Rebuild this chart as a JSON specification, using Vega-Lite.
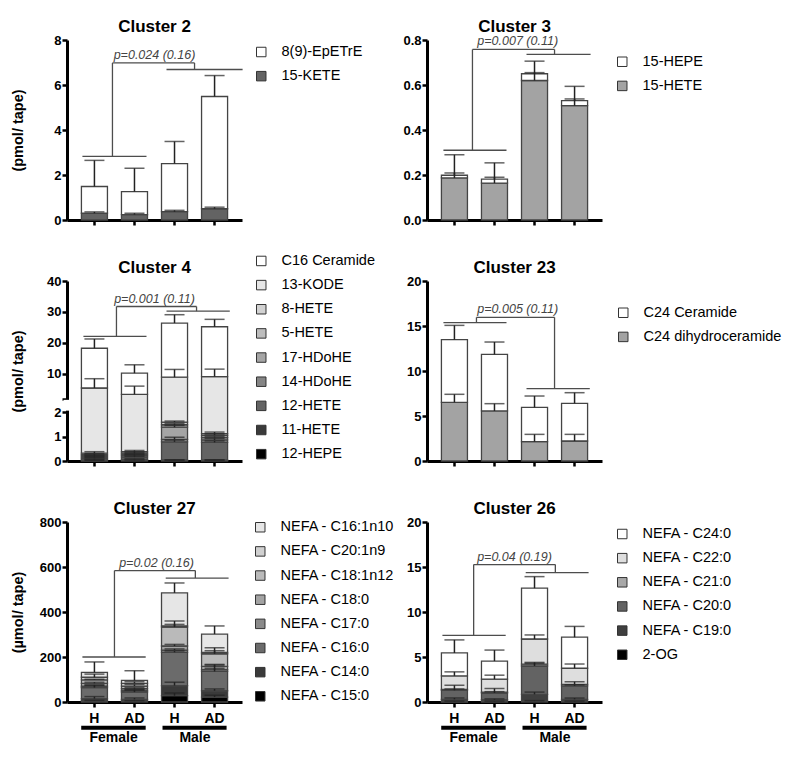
{
  "$schema": "https://vega.github.io/schema/vega-lite/v6.json",
  "background": "white",
  "padding": {"left": 10, "top": 17, "right": 5, "bottom": 5},
  "config": {
    "font": "Liberation Sans",
    "view": {"stroke": null},
    "axis": {"domainColor": "#000000", "domainWidth": 3, "tickColor": "#000000", "tickWidth": 2.5, "tickSize": 5, "labelFontSize": 13, "labelFontWeight": "bold", "labelColor": "#000000", "labelFont": "Liberation Sans", "titleFont": "Liberation Sans", "titleFontSize": 14.5, "titleFontWeight": "bold", "titleColor": "#000000", "grid": false, "labelPadding": 1},
    "axisY": {"minExtent": 28, "maxExtent": 28, "titlePadding": 14, "labelOverlap": false},
    "axisX": {"zindex": 1, "labelPadding": 4, "labelFontSize": 14},
    "legend": {"labelFont": "Liberation Sans", "labelFontSize": 14.5, "labelColor": "#000000", "symbolType": "square", "symbolSize": 90, "symbolStrokeColor": "#333333", "symbolStrokeWidth": 1, "rowPadding": 9.15, "labelOffset": 13, "padding": 0}
  },
  "datasets": {
    "c2": [
      {"g": "F-H", "a": "15-KETE", "o": 1, "v": 0.30, "e": 0.36},
      {"g": "F-H", "a": "8(9)-EpETrE", "o": 2, "v": 1.19, "e": 2.65},
      {"g": "F-AD", "a": "15-KETE", "o": 1, "v": 0.24, "e": 0.30},
      {"g": "F-AD", "a": "8(9)-EpETrE", "o": 2, "v": 1.02, "e": 2.30},
      {"g": "M-H", "a": "15-KETE", "o": 1, "v": 0.37, "e": 0.43},
      {"g": "M-H", "a": "8(9)-EpETrE", "o": 2, "v": 2.14, "e": 3.49},
      {"g": "M-AD", "a": "15-KETE", "o": 1, "v": 0.50, "e": 0.57},
      {"g": "M-AD", "a": "8(9)-EpETrE", "o": 2, "v": 4.99, "e": 6.42}
    ],
    "c3": [
      {"g": "F-H", "a": "15-HETE", "o": 1, "v": 0.187, "e": 0.209},
      {"g": "F-H", "a": "15-HEPE", "o": 2, "v": 0.012, "e": 0.29},
      {"g": "F-AD", "a": "15-HETE", "o": 1, "v": 0.164, "e": 0.19},
      {"g": "F-AD", "a": "15-HEPE", "o": 2, "v": 0.018, "e": 0.254},
      {"g": "M-H", "a": "15-HETE", "o": 1, "v": 0.62, "e": 0.655},
      {"g": "M-H", "a": "15-HEPE", "o": 2, "v": 0.03, "e": 0.706},
      {"g": "M-AD", "a": "15-HETE", "o": 1, "v": 0.508, "e": 0.538},
      {"g": "M-AD", "a": "15-HEPE", "o": 2, "v": 0.023, "e": 0.594}
    ],
    "c4": [
      {"g": "F-H", "a": "12-HEPE", "o": 1, "v": 0.02, "e": 0.03},
      {"g": "F-H", "a": "11-HETE", "o": 2, "v": 0.03, "e": 0.07},
      {"g": "F-H", "a": "12-HETE", "o": 3, "v": 0.06, "e": 0.14},
      {"g": "F-H", "a": "14-HDoHE", "o": 4, "v": 0.05, "e": 0.19},
      {"g": "F-H", "a": "17-HDoHE", "o": 5, "v": 0.05, "e": 0.24},
      {"g": "F-H", "a": "5-HETE", "o": 6, "v": 0.05, "e": 0.30},
      {"g": "F-H", "a": "8-HETE", "o": 7, "v": 0.06, "e": 0.38},
      {"g": "F-H", "a": "13-KODE", "o": 8, "v": 5.08, "e": 8.4},
      {"g": "F-H", "a": "C16 Ceramide", "o": 9, "v": 12.85, "e": 21.25},
      {"g": "F-AD", "a": "12-HEPE", "o": 1, "v": 0.03, "e": 0.04},
      {"g": "F-AD", "a": "11-HETE", "o": 2, "v": 0.04, "e": 0.09},
      {"g": "F-AD", "a": "12-HETE", "o": 3, "v": 0.09, "e": 0.19},
      {"g": "F-AD", "a": "14-HDoHE", "o": 4, "v": 0.06, "e": 0.25},
      {"g": "F-AD", "a": "17-HDoHE", "o": 5, "v": 0.05, "e": 0.30},
      {"g": "F-AD", "a": "5-HETE", "o": 6, "v": 0.05, "e": 0.36},
      {"g": "F-AD", "a": "8-HETE", "o": 7, "v": 0.06, "e": 0.43},
      {"g": "F-AD", "a": "13-KODE", "o": 8, "v": 2.98, "e": 6.0},
      {"g": "F-AD", "a": "C16 Ceramide", "o": 9, "v": 6.84, "e": 12.9},
      {"g": "M-H", "a": "12-HEPE", "o": 1, "v": 0.02, "e": 0.03},
      {"g": "M-H", "a": "11-HETE", "o": 2, "v": 0.02, "e": 0.05},
      {"g": "M-H", "a": "12-HETE", "o": 3, "v": 0.74, "e": 0.85},
      {"g": "M-H", "a": "14-HDoHE", "o": 4, "v": 0.10, "e": 0.97},
      {"g": "M-H", "a": "17-HDoHE", "o": 5, "v": 0.50, "e": 1.45},
      {"g": "M-H", "a": "5-HETE", "o": 6, "v": 0.10, "e": 1.53},
      {"g": "M-H", "a": "8-HETE", "o": 7, "v": 0.11, "e": 1.63},
      {"g": "M-H", "a": "13-KODE", "o": 8, "v": 7.31, "e": 11.4},
      {"g": "M-H", "a": "C16 Ceramide", "o": 9, "v": 17.5, "e": 29.1},
      {"g": "M-AD", "a": "12-HEPE", "o": 1, "v": 0.02, "e": 0.03},
      {"g": "M-AD", "a": "11-HETE", "o": 2, "v": 0.02, "e": 0.05},
      {"g": "M-AD", "a": "12-HETE", "o": 3, "v": 0.72, "e": 0.82},
      {"g": "M-AD", "a": "14-HDoHE", "o": 4, "v": 0.10, "e": 0.92},
      {"g": "M-AD", "a": "17-HDoHE", "o": 5, "v": 0.10, "e": 1.0},
      {"g": "M-AD", "a": "5-HETE", "o": 6, "v": 0.09, "e": 1.1},
      {"g": "M-AD", "a": "8-HETE", "o": 7, "v": 0.07, "e": 1.18},
      {"g": "M-AD", "a": "13-KODE", "o": 8, "v": 7.98, "e": 11.5},
      {"g": "M-AD", "a": "C16 Ceramide", "o": 9, "v": 16.1, "e": 27.6}
    ],
    "c23": [
      {"g": "F-H", "a": "C24 dihydroceramide", "o": 1, "v": 6.52, "e": 7.41},
      {"g": "F-H", "a": "C24 Ceramide", "o": 2, "v": 6.96, "e": 15.07},
      {"g": "F-AD", "a": "C24 dihydroceramide", "o": 1, "v": 5.56, "e": 6.37},
      {"g": "F-AD", "a": "C24 Ceramide", "o": 2, "v": 6.29, "e": 13.22},
      {"g": "M-H", "a": "C24 dihydroceramide", "o": 1, "v": 2.15, "e": 2.96},
      {"g": "M-H", "a": "C24 Ceramide", "o": 2, "v": 3.81, "e": 7.22},
      {"g": "M-AD", "a": "C24 dihydroceramide", "o": 1, "v": 2.22, "e": 2.96},
      {"g": "M-AD", "a": "C24 Ceramide", "o": 2, "v": 4.19, "e": 7.59}
    ],
    "c27": [
      {"g": "F-H", "a": "NEFA - C15:0", "o": 1, "v": 5, "e": 7},
      {"g": "F-H", "a": "NEFA - C14:0", "o": 2, "v": 10, "e": 24},
      {"g": "F-H", "a": "NEFA - C16:0", "o": 3, "v": 49, "e": 76},
      {"g": "F-H", "a": "NEFA - C17:0", "o": 4, "v": 6, "e": 74},
      {"g": "F-H", "a": "NEFA - C18:0", "o": 5, "v": 13, "e": 88},
      {"g": "F-H", "a": "NEFA - C18:1n12", "o": 6, "v": 15, "e": 101},
      {"g": "F-H", "a": "NEFA - C20:1n9", "o": 7, "v": 12, "e": 124},
      {"g": "F-H", "a": "NEFA - C16:1n10", "o": 8, "v": 22, "e": 178},
      {"g": "F-AD", "a": "NEFA - C15:0", "o": 1, "v": 4, "e": 6},
      {"g": "F-AD", "a": "NEFA - C14:0", "o": 2, "v": 8, "e": 18},
      {"g": "F-AD", "a": "NEFA - C16:0", "o": 3, "v": 32, "e": 56},
      {"g": "F-AD", "a": "NEFA - C17:0", "o": 4, "v": 6, "e": 53},
      {"g": "F-AD", "a": "NEFA - C18:0", "o": 5, "v": 9, "e": 64},
      {"g": "F-AD", "a": "NEFA - C18:1n12", "o": 6, "v": 12, "e": 78},
      {"g": "F-AD", "a": "NEFA - C20:1n9", "o": 7, "v": 12, "e": 90},
      {"g": "F-AD", "a": "NEFA - C16:1n10", "o": 8, "v": 13, "e": 139},
      {"g": "M-H", "a": "NEFA - C15:0", "o": 1, "v": 28, "e": 40},
      {"g": "M-H", "a": "NEFA - C14:0", "o": 2, "v": 45, "e": 88},
      {"g": "M-H", "a": "NEFA - C16:0", "o": 3, "v": 148, "e": 227},
      {"g": "M-H", "a": "NEFA - C17:0", "o": 4, "v": 10, "e": 236},
      {"g": "M-H", "a": "NEFA - C18:0", "o": 5, "v": 18, "e": 256},
      {"g": "M-H", "a": "NEFA - C18:1n12", "o": 6, "v": 84, "e": 360},
      {"g": "M-H", "a": "NEFA - C20:1n9", "o": 7, "v": 5, "e": 345},
      {"g": "M-H", "a": "NEFA - C16:1n10", "o": 8, "v": 147, "e": 529},
      {"g": "M-AD", "a": "NEFA - C15:0", "o": 1, "v": 22, "e": 30},
      {"g": "M-AD", "a": "NEFA - C14:0", "o": 2, "v": 28, "e": 58},
      {"g": "M-AD", "a": "NEFA - C16:0", "o": 3, "v": 86, "e": 164},
      {"g": "M-AD", "a": "NEFA - C17:0", "o": 4, "v": 8, "e": 150},
      {"g": "M-AD", "a": "NEFA - C18:0", "o": 5, "v": 14, "e": 167},
      {"g": "M-AD", "a": "NEFA - C18:1n12", "o": 6, "v": 56, "e": 241},
      {"g": "M-AD", "a": "NEFA - C20:1n9", "o": 7, "v": 6, "e": 228},
      {"g": "M-AD", "a": "NEFA - C16:1n10", "o": 8, "v": 82, "e": 338}
    ],
    "c26": [
      {"g": "F-H", "a": "2-OG", "o": 1, "v": 0.05, "e": 0.1},
      {"g": "F-H", "a": "NEFA - C19:0", "o": 2, "v": 0.25, "e": 0.45},
      {"g": "F-H", "a": "NEFA - C20:0", "o": 3, "v": 1.0, "e": 1.45},
      {"g": "F-H", "a": "NEFA - C21:0", "o": 4, "v": 0.1, "e": 1.86},
      {"g": "F-H", "a": "NEFA - C22:0", "o": 5, "v": 1.5, "e": 3.35},
      {"g": "F-H", "a": "NEFA - C24:0", "o": 6, "v": 2.55, "e": 6.9},
      {"g": "F-AD", "a": "2-OG", "o": 1, "v": 0.05, "e": 0.1},
      {"g": "F-AD", "a": "NEFA - C19:0", "o": 2, "v": 0.2, "e": 0.35},
      {"g": "F-AD", "a": "NEFA - C20:0", "o": 3, "v": 0.75, "e": 1.15},
      {"g": "F-AD", "a": "NEFA - C21:0", "o": 4, "v": 0.1, "e": 1.5},
      {"g": "F-AD", "a": "NEFA - C22:0", "o": 5, "v": 1.45, "e": 2.98},
      {"g": "F-AD", "a": "NEFA - C24:0", "o": 6, "v": 2.0, "e": 5.77},
      {"g": "M-H", "a": "2-OG", "o": 1, "v": 0.1, "e": 0.15},
      {"g": "M-H", "a": "NEFA - C19:0", "o": 2, "v": 0.75, "e": 1.1},
      {"g": "M-H", "a": "NEFA - C20:0", "o": 3, "v": 3.15, "e": 4.3},
      {"g": "M-H", "a": "NEFA - C21:0", "o": 4, "v": 0.2, "e": 4.4},
      {"g": "M-H", "a": "NEFA - C22:0", "o": 5, "v": 2.8, "e": 7.45},
      {"g": "M-H", "a": "NEFA - C24:0", "o": 6, "v": 5.65, "e": 13.93},
      {"g": "M-AD", "a": "2-OG", "o": 1, "v": 0.05, "e": 0.1},
      {"g": "M-AD", "a": "NEFA - C19:0", "o": 2, "v": 0.25, "e": 0.44},
      {"g": "M-AD", "a": "NEFA - C20:0", "o": 3, "v": 1.5, "e": 1.9},
      {"g": "M-AD", "a": "NEFA - C21:0", "o": 4, "v": 0.15, "e": 2.25},
      {"g": "M-AD", "a": "NEFA - C22:0", "o": 5, "v": 1.8, "e": 4.22},
      {"g": "M-AD", "a": "NEFA - C24:0", "o": 6, "v": 3.45, "e": 8.4}
    ],
    "b2": [
      {"k": "l", "x": 0.45, "x2": 2.5, "y": 6.98, "y2": 6.98},
      {"k": "l", "x": -0.3, "x2": 1.3, "y": 2.83, "y2": 2.83},
      {"k": "l", "x": 1.8, "x2": 3.7, "y": 6.69, "y2": 6.69},
      {"k": "l", "x": 0.45, "x2": 0.45, "y": 2.83, "y2": 6.98},
      {"k": "l", "x": 2.5, "x2": 2.5, "y": 6.69, "y2": 6.98},
      {"k": "p", "x": 1.5, "y": 6.98, "t": "p=0.024 (0.16)"},
      {"k": "t", "x": 1.5, "y": 8, "t": "Cluster 2"}
    ],
    "b3": [
      {"k": "l", "x": 0.45, "x2": 2.5, "y": 0.758, "y2": 0.758},
      {"k": "l", "x": -0.275, "x2": 1.3, "y": 0.31, "y2": 0.31},
      {"k": "l", "x": 1.8, "x2": 3.4, "y": 0.736, "y2": 0.736},
      {"k": "l", "x": 0.45, "x2": 0.45, "y": 0.31, "y2": 0.758},
      {"k": "l", "x": 2.5, "x2": 2.5, "y": 0.736, "y2": 0.758},
      {"k": "p", "x": 1.58, "y": 0.758, "t": "p=0.007 (0.11)"},
      {"k": "t", "x": 1.5, "y": 0.8, "t": "Cluster 3"}
    ],
    "b4": [
      {"k": "l", "x": 0.55, "x2": 2.55, "y": 31.75, "y2": 31.75},
      {"k": "l", "x": -0.275, "x2": 1.3, "y": 22.1, "y2": 22.1},
      {"k": "l", "x": 1.8, "x2": 3.38, "y": 30.25, "y2": 30.25},
      {"k": "l", "x": 0.55, "x2": 0.55, "y": 22.1, "y2": 31.75},
      {"k": "l", "x": 2.55, "x2": 2.55, "y": 30.25, "y2": 31.75},
      {"k": "p", "x": 1.5, "y": 31.75, "t": "p=0.001 (0.11)"},
      {"k": "t", "x": 1.5, "y": 40, "t": "Cluster 4"},
      {"k": "w", "x": -0.685, "x2": -0.685, "y": 2.00001, "y2": 2.00009}
    ],
    "b23": [
      {"k": "l", "x": 0.55, "x2": 2.5, "y": 15.96, "y2": 15.96},
      {"k": "l", "x": -0.275, "x2": 1.3, "y": 15.37, "y2": 15.37},
      {"k": "l", "x": 1.8, "x2": 3.38, "y": 8.04, "y2": 8.04},
      {"k": "l", "x": 0.55, "x2": 0.55, "y": 15.37, "y2": 15.96},
      {"k": "l", "x": 2.5, "x2": 2.5, "y": 8.04, "y2": 15.96},
      {"k": "p", "x": 1.58, "y": 15.96, "t": "p=0.005 (0.11)"},
      {"k": "t", "x": 1.5, "y": 20, "t": "Cluster 23"}
    ],
    "b27": [
      {"k": "l", "x": 0.5, "x2": 2.52, "y": 584, "y2": 584},
      {"k": "l", "x": -0.3, "x2": 1.28, "y": 200, "y2": 200},
      {"k": "l", "x": 1.78, "x2": 3.35, "y": 551, "y2": 551},
      {"k": "l", "x": 0.5, "x2": 0.5, "y": 200, "y2": 584},
      {"k": "l", "x": 2.52, "x2": 2.52, "y": 551, "y2": 584},
      {"k": "p", "x": 1.55, "y": 584, "t": "p=0.02 (0.16)"},
      {"k": "t", "x": 1.5, "y": 800, "t": "Cluster 27"},
      {"k": "u", "x": -0.33, "x2": 1.28, "y": -114, "y2": -114},
      {"k": "u", "x": 1.7, "x2": 3.3, "y": -114, "y2": -114},
      {"k": "s", "x": 0.48, "y": -158, "t": "Female"},
      {"k": "s", "x": 2.51, "y": -158, "t": "Male"}
    ],
    "b26": [
      {"k": "l", "x": 0.48, "x2": 2.52, "y": 15.27, "y2": 15.27},
      {"k": "l", "x": -0.3, "x2": 1.28, "y": 7.41, "y2": 7.41},
      {"k": "l", "x": 1.78, "x2": 3.35, "y": 14.38, "y2": 14.38},
      {"k": "l", "x": 0.48, "x2": 0.48, "y": 7.41, "y2": 15.27},
      {"k": "l", "x": 2.52, "x2": 2.52, "y": 14.38, "y2": 15.27},
      {"k": "p", "x": 1.5, "y": 15.27, "t": "p=0.04 (0.19)"},
      {"k": "t", "x": 1.5, "y": 20, "t": "Cluster 26"},
      {"k": "u", "x": -0.33, "x2": 1.28, "y": -2.86, "y2": -2.86},
      {"k": "u", "x": 1.7, "x2": 3.3, "y": -2.86, "y2": -2.86},
      {"k": "s", "x": 0.48, "y": -3.95, "t": "Female"},
      {"k": "s", "x": 2.51, "y": -3.95, "t": "Male"}
    ]
  },
  "columns": 2,
  "bounds": "flush",
  "spacing": {"row": 61, "column": 185},
  "resolve": {"scale": {"color": "independent"}, "legend": {"color": "independent"}},
  "concat": [
    {
      "width": 175, "height": 180,
      "resolve": {"scale": {"x": "independent"}},
      "layer": [
        {"data": {"name": "c2"},
         "transform": [{"stack": "v", "groupby": ["g"], "sort": [{"field": "o", "order": "ascending"}], "as": ["s0", "s1"]}],
         "mark": {"type": "bar", "stroke": "#444444", "strokeWidth": 1.3},
         "encoding": {
           "x": {"field": "g", "type": "nominal", "sort": ["F-H", "F-AD", "M-H", "M-AD"], "scale": {"paddingInner": 0.35, "paddingOuter": 0.36}, "axis": {"title": null, "labels": false}},
           "y": {"field": "s1", "type": "quantitative", "scale": {"domain": [0, 8], "nice": false}, "axis": {"values": [0, 2, 4, 6, 8], "title": "(pmol/ tape)"}},
           "y2": {"field": "s0"},
           "color": {"field": "a", "type": "nominal", "scale": {"domain": ["8(9)-EpETrE", "15-KETE"], "range": ["#ffffff", "#636363"]}, "legend": {"title": null, "orient": "none", "legendX": 187, "legendY": 4.75}}}},
        {"data": {"name": "c2"},
         "transform": [{"stack": "v", "groupby": ["g"], "sort": [{"field": "o", "order": "ascending"}], "as": ["s0", "s1"]}],
         "mark": {"type": "rule", "color": "#222222", "strokeWidth": 1.5},
         "encoding": {
           "x": {"field": "g", "type": "nominal", "sort": ["F-H", "F-AD", "M-H", "M-AD"], "scale": {"paddingInner": 0.35, "paddingOuter": 0.36}, "axis": null},
           "y": {"field": "s1", "type": "quantitative"}, "y2": {"field": "e"}}},
        {"data": {"name": "c2"},
         "mark": {"type": "tick", "color": "#222222", "size": 20, "thickness": 1.5},
         "encoding": {
           "x": {"field": "g", "type": "nominal", "sort": ["F-H", "F-AD", "M-H", "M-AD"], "scale": {"paddingInner": 0.35, "paddingOuter": 0.36}, "axis": null},
           "y": {"field": "e", "type": "quantitative"}}},
        {"data": {"name": "b2"}, "transform": [{"filter": "datum.k == 'l'"}],
         "mark": {"type": "rule", "color": "#4d4d4d", "strokeWidth": 1.3},
         "encoding": {"x": {"field": "x", "type": "quantitative", "scale": {"domain": [-0.685, 3.685], "nice": false, "zero": false}, "axis": null}, "x2": {"field": "x2"}, "y": {"field": "y", "type": "quantitative"}, "y2": {"field": "y2"}}},
        {"data": {"name": "b2"}, "transform": [{"filter": "datum.k == 'p'"}],
         "mark": {"type": "text", "fontStyle": "italic", "fontSize": 12.5, "color": "#444444", "baseline": "bottom", "dy": -1},
         "encoding": {"x": {"field": "x", "type": "quantitative", "scale": {"domain": [-0.685, 3.685], "nice": false, "zero": false}, "axis": null}, "y": {"field": "y", "type": "quantitative"}, "text": {"field": "t"}}},
        {"data": {"name": "b2"}, "transform": [{"filter": "datum.k == 't'"}],
         "mark": {"type": "text", "fontSize": 17, "fontWeight": "bold", "baseline": "alphabetic", "dy": -8.5, "color": "#000000"},
         "encoding": {"x": {"field": "x", "type": "quantitative", "scale": {"domain": [-0.685, 3.685], "nice": false, "zero": false}, "axis": null}, "y": {"field": "y", "type": "quantitative"}, "text": {"field": "t"}}}
      ]
    },
    {
      "width": 175, "height": 180,
      "resolve": {"scale": {"x": "independent"}},
      "layer": [
        {"data": {"name": "c3"},
         "transform": [{"stack": "v", "groupby": ["g"], "sort": [{"field": "o", "order": "ascending"}], "as": ["s0", "s1"]}],
         "mark": {"type": "bar", "stroke": "#444444", "strokeWidth": 1.3},
         "encoding": {
           "x": {"field": "g", "type": "nominal", "sort": ["F-H", "F-AD", "M-H", "M-AD"], "scale": {"paddingInner": 0.35, "paddingOuter": 0.36}, "axis": {"title": null, "labels": false}},
           "y": {"field": "s1", "type": "quantitative", "scale": {"domain": [0, 0.8], "nice": false}, "axis": {"values": [0, 0.2, 0.4, 0.6, 0.8], "format": ".1f", "title": null}},
           "y2": {"field": "s0"},
           "color": {"field": "a", "type": "nominal", "scale": {"domain": ["15-HEPE", "15-HETE"], "range": ["#ffffff", "#a3a3a3"]}, "legend": {"title": null, "orient": "none", "legendX": 188, "legendY": 14.5}}}},
        {"data": {"name": "c3"},
         "transform": [{"stack": "v", "groupby": ["g"], "sort": [{"field": "o", "order": "ascending"}], "as": ["s0", "s1"]}],
         "mark": {"type": "rule", "color": "#222222", "strokeWidth": 1.5},
         "encoding": {
           "x": {"field": "g", "type": "nominal", "sort": ["F-H", "F-AD", "M-H", "M-AD"], "scale": {"paddingInner": 0.35, "paddingOuter": 0.36}, "axis": null},
           "y": {"field": "s1", "type": "quantitative"}, "y2": {"field": "e"}}},
        {"data": {"name": "c3"},
         "mark": {"type": "tick", "color": "#222222", "size": 20, "thickness": 1.5},
         "encoding": {
           "x": {"field": "g", "type": "nominal", "sort": ["F-H", "F-AD", "M-H", "M-AD"], "scale": {"paddingInner": 0.35, "paddingOuter": 0.36}, "axis": null},
           "y": {"field": "e", "type": "quantitative"}}},
        {"data": {"name": "b3"}, "transform": [{"filter": "datum.k == 'l'"}],
         "mark": {"type": "rule", "color": "#4d4d4d", "strokeWidth": 1.3},
         "encoding": {"x": {"field": "x", "type": "quantitative", "scale": {"domain": [-0.685, 3.685], "nice": false, "zero": false}, "axis": null}, "x2": {"field": "x2"}, "y": {"field": "y", "type": "quantitative"}, "y2": {"field": "y2"}}},
        {"data": {"name": "b3"}, "transform": [{"filter": "datum.k == 'p'"}],
         "mark": {"type": "text", "fontStyle": "italic", "fontSize": 12.5, "color": "#444444", "baseline": "bottom", "dy": -1},
         "encoding": {"x": {"field": "x", "type": "quantitative", "scale": {"domain": [-0.685, 3.685], "nice": false, "zero": false}, "axis": null}, "y": {"field": "y", "type": "quantitative"}, "text": {"field": "t"}}},
        {"data": {"name": "b3"}, "transform": [{"filter": "datum.k == 't'"}],
         "mark": {"type": "text", "fontSize": 17, "fontWeight": "bold", "baseline": "alphabetic", "dy": -8.5, "color": "#000000"},
         "encoding": {"x": {"field": "x", "type": "quantitative", "scale": {"domain": [-0.685, 3.685], "nice": false, "zero": false}, "axis": null}, "y": {"field": "y", "type": "quantitative"}, "text": {"field": "t"}}}
      ]
    },
    {
      "width": 175, "height": 180,
      "resolve": {"scale": {"x": "independent"}},
      "layer": [
        {"data": {"name": "c4"},
         "transform": [{"stack": "v", "groupby": ["g"], "sort": [{"field": "o", "order": "ascending"}], "as": ["s0", "s1"]}],
         "mark": {"type": "bar", "stroke": "#444444", "strokeWidth": 1.3},
         "encoding": {
           "x": {"field": "g", "type": "nominal", "sort": ["F-H", "F-AD", "M-H", "M-AD"], "scale": {"paddingInner": 0.35, "paddingOuter": 0.36}, "axis": {"title": null, "labels": false}},
           "y": {"field": "s1", "type": "quantitative", "scale": {"domain": [0, 2, 2.0001, 40], "range": [180, 131, 117.5, 0], "nice": false}, "axis": {"values": [0, 1, 2, 2.0001, 10, 20, 30, 40], "tickCount": 20, "labelExpr": "datum.value > 2 && datum.value < 3 ? '' : datum.label", "labelOverlap": false, "labelBound": false, "title": "(pmol/ tape)"}},
           "y2": {"field": "s0"},
           "color": {"field": "a", "type": "nominal", "scale": {"domain": ["C16 Ceramide", "13-KODE", "8-HETE", "5-HETE", "17-HDoHE", "14-HDoHE", "12-HETE", "11-HETE", "12-HEPE"], "range": ["#ffffff", "#e6e6e6", "#d2d2d2", "#bdbdbd", "#a5a5a5", "#858585", "#636363", "#3a3a3a", "#000000"]}, "legend": {"title": null, "orient": "none", "legendX": 187, "legendY": -27.3}}}},
        {"data": {"name": "c4"},
         "transform": [{"stack": "v", "groupby": ["g"], "sort": [{"field": "o", "order": "ascending"}], "as": ["s0", "s1"]}],
         "mark": {"type": "rule", "color": "#222222", "strokeWidth": 1.5},
         "encoding": {
           "x": {"field": "g", "type": "nominal", "sort": ["F-H", "F-AD", "M-H", "M-AD"], "scale": {"paddingInner": 0.35, "paddingOuter": 0.36}, "axis": null},
           "y": {"field": "s1", "type": "quantitative"}, "y2": {"field": "e"}}},
        {"data": {"name": "c4"},
         "mark": {"type": "tick", "color": "#222222", "size": 20, "thickness": 1.5},
         "encoding": {
           "x": {"field": "g", "type": "nominal", "sort": ["F-H", "F-AD", "M-H", "M-AD"], "scale": {"paddingInner": 0.35, "paddingOuter": 0.36}, "axis": null},
           "y": {"field": "e", "type": "quantitative"}}},
        {"data": {"name": "b4"}, "transform": [{"filter": "datum.k == 'l'"}],
         "mark": {"type": "rule", "color": "#4d4d4d", "strokeWidth": 1.3},
         "encoding": {"x": {"field": "x", "type": "quantitative", "scale": {"domain": [-0.685, 3.685], "nice": false, "zero": false}, "axis": null}, "x2": {"field": "x2"}, "y": {"field": "y", "type": "quantitative"}, "y2": {"field": "y2"}}},
        {"data": {"name": "b4"}, "transform": [{"filter": "datum.k == 'w'"}],
         "mark": {"type": "rule", "color": "#ffffff", "strokeWidth": 7},
         "encoding": {"x": {"field": "x", "type": "quantitative", "scale": {"domain": [-0.685, 3.685], "nice": false, "zero": false}, "axis": null}, "x2": {"field": "x2"}, "y": {"field": "y", "type": "quantitative"}, "y2": {"field": "y2"}}},
        {"data": {"name": "b4"}, "transform": [{"filter": "datum.k == 'p'"}],
         "mark": {"type": "text", "fontStyle": "italic", "fontSize": 12.5, "color": "#444444", "baseline": "bottom", "dy": -1},
         "encoding": {"x": {"field": "x", "type": "quantitative", "scale": {"domain": [-0.685, 3.685], "nice": false, "zero": false}, "axis": null}, "y": {"field": "y", "type": "quantitative"}, "text": {"field": "t"}}},
        {"data": {"name": "b4"}, "transform": [{"filter": "datum.k == 't'"}],
         "mark": {"type": "text", "fontSize": 17, "fontWeight": "bold", "baseline": "alphabetic", "dy": -8.5, "color": "#000000"},
         "encoding": {"x": {"field": "x", "type": "quantitative", "scale": {"domain": [-0.685, 3.685], "nice": false, "zero": false}, "axis": null}, "y": {"field": "y", "type": "quantitative"}, "text": {"field": "t"}}}
      ]
    },
    {
      "width": 175, "height": 180,
      "resolve": {"scale": {"x": "independent"}},
      "layer": [
        {"data": {"name": "c23"},
         "transform": [{"stack": "v", "groupby": ["g"], "sort": [{"field": "o", "order": "ascending"}], "as": ["s0", "s1"]}],
         "mark": {"type": "bar", "stroke": "#444444", "strokeWidth": 1.3},
         "encoding": {
           "x": {"field": "g", "type": "nominal", "sort": ["F-H", "F-AD", "M-H", "M-AD"], "scale": {"paddingInner": 0.35, "paddingOuter": 0.36}, "axis": {"title": null, "labels": false}},
           "y": {"field": "s1", "type": "quantitative", "scale": {"domain": [0, 20], "nice": false}, "axis": {"values": [0, 5, 10, 15, 20], "title": null}},
           "y2": {"field": "s0"},
           "color": {"field": "a", "type": "nominal", "scale": {"domain": ["C24 Ceramide", "C24 dihydroceramide"], "range": ["#ffffff", "#a3a3a3"]}, "legend": {"title": null, "orient": "none", "legendX": 189, "legendY": 24.5}}}},
        {"data": {"name": "c23"},
         "transform": [{"stack": "v", "groupby": ["g"], "sort": [{"field": "o", "order": "ascending"}], "as": ["s0", "s1"]}],
         "mark": {"type": "rule", "color": "#222222", "strokeWidth": 1.5},
         "encoding": {
           "x": {"field": "g", "type": "nominal", "sort": ["F-H", "F-AD", "M-H", "M-AD"], "scale": {"paddingInner": 0.35, "paddingOuter": 0.36}, "axis": null},
           "y": {"field": "s1", "type": "quantitative"}, "y2": {"field": "e"}}},
        {"data": {"name": "c23"},
         "mark": {"type": "tick", "color": "#222222", "size": 20, "thickness": 1.5},
         "encoding": {
           "x": {"field": "g", "type": "nominal", "sort": ["F-H", "F-AD", "M-H", "M-AD"], "scale": {"paddingInner": 0.35, "paddingOuter": 0.36}, "axis": null},
           "y": {"field": "e", "type": "quantitative"}}},
        {"data": {"name": "b23"}, "transform": [{"filter": "datum.k == 'l'"}],
         "mark": {"type": "rule", "color": "#4d4d4d", "strokeWidth": 1.3},
         "encoding": {"x": {"field": "x", "type": "quantitative", "scale": {"domain": [-0.685, 3.685], "nice": false, "zero": false}, "axis": null}, "x2": {"field": "x2"}, "y": {"field": "y", "type": "quantitative"}, "y2": {"field": "y2"}}},
        {"data": {"name": "b23"}, "transform": [{"filter": "datum.k == 'p'"}],
         "mark": {"type": "text", "fontStyle": "italic", "fontSize": 12.5, "color": "#444444", "baseline": "bottom", "dy": -1},
         "encoding": {"x": {"field": "x", "type": "quantitative", "scale": {"domain": [-0.685, 3.685], "nice": false, "zero": false}, "axis": null}, "y": {"field": "y", "type": "quantitative"}, "text": {"field": "t"}}},
        {"data": {"name": "b23"}, "transform": [{"filter": "datum.k == 't'"}],
         "mark": {"type": "text", "fontSize": 17, "fontWeight": "bold", "baseline": "alphabetic", "dy": -8.5, "color": "#000000"},
         "encoding": {"x": {"field": "x", "type": "quantitative", "scale": {"domain": [-0.685, 3.685], "nice": false, "zero": false}, "axis": null}, "y": {"field": "y", "type": "quantitative"}, "text": {"field": "t"}}}
      ]
    },
    {
      "width": 175, "height": 180,
      "resolve": {"scale": {"x": "independent"}},
      "layer": [
        {"data": {"name": "c27"},
         "transform": [{"stack": "v", "groupby": ["g"], "sort": [{"field": "o", "order": "ascending"}], "as": ["s0", "s1"]}],
         "mark": {"type": "bar", "stroke": "#444444", "strokeWidth": 1.3},
         "encoding": {
           "x": {"field": "g", "type": "nominal", "sort": ["F-H", "F-AD", "M-H", "M-AD"], "scale": {"paddingInner": 0.35, "paddingOuter": 0.36}, "axis": {"title": null, "labelExpr": "split(datum.value, '-')[1]", "labelAngle": 0}},
           "y": {"field": "s1", "type": "quantitative", "scale": {"domain": [0, 800], "nice": false}, "axis": {"values": [0, 200, 400, 600, 800], "title": "(µmol/ tape)"}},
           "y2": {"field": "s0"},
           "color": {"field": "a", "type": "nominal", "scale": {"domain": ["NEFA - C16:1n10", "NEFA - C20:1n9", "NEFA - C18:1n12", "NEFA - C18:0", "NEFA - C17:0", "NEFA - C16:0", "NEFA - C14:0", "NEFA - C15:0"], "range": ["#e6e6e6", "#d0d0d0", "#bababa", "#a3a3a3", "#8a8a8a", "#6b6b6b", "#3a3a3a", "#000000"]}, "legend": {"title": null, "orient": "none", "legendX": 186, "legendY": -2}}}},
        {"data": {"name": "c27"},
         "transform": [{"stack": "v", "groupby": ["g"], "sort": [{"field": "o", "order": "ascending"}], "as": ["s0", "s1"]}],
         "mark": {"type": "rule", "color": "#222222", "strokeWidth": 1.5},
         "encoding": {
           "x": {"field": "g", "type": "nominal", "sort": ["F-H", "F-AD", "M-H", "M-AD"], "scale": {"paddingInner": 0.35, "paddingOuter": 0.36}, "axis": null},
           "y": {"field": "s1", "type": "quantitative"}, "y2": {"field": "e"}}},
        {"data": {"name": "c27"},
         "mark": {"type": "tick", "color": "#222222", "size": 20, "thickness": 1.5},
         "encoding": {
           "x": {"field": "g", "type": "nominal", "sort": ["F-H", "F-AD", "M-H", "M-AD"], "scale": {"paddingInner": 0.35, "paddingOuter": 0.36}, "axis": null},
           "y": {"field": "e", "type": "quantitative"}}},
        {"data": {"name": "b27"}, "transform": [{"filter": "datum.k == 'l'"}],
         "mark": {"type": "rule", "color": "#4d4d4d", "strokeWidth": 1.3},
         "encoding": {"x": {"field": "x", "type": "quantitative", "scale": {"domain": [-0.685, 3.685], "nice": false, "zero": false}, "axis": null}, "x2": {"field": "x2"}, "y": {"field": "y", "type": "quantitative"}, "y2": {"field": "y2"}}},
        {"data": {"name": "b27"}, "transform": [{"filter": "datum.k == 'u'"}],
         "mark": {"type": "rule", "color": "#000000", "strokeWidth": 4},
         "encoding": {"x": {"field": "x", "type": "quantitative", "scale": {"domain": [-0.685, 3.685], "nice": false, "zero": false}, "axis": null}, "x2": {"field": "x2"}, "y": {"field": "y", "type": "quantitative"}, "y2": {"field": "y2"}}},
        {"data": {"name": "b27"}, "transform": [{"filter": "datum.k == 's'"}],
         "mark": {"type": "text", "fontSize": 14, "fontWeight": "bold", "baseline": "middle", "color": "#000000"},
         "encoding": {"x": {"field": "x", "type": "quantitative", "scale": {"domain": [-0.685, 3.685], "nice": false, "zero": false}, "axis": null}, "y": {"field": "y", "type": "quantitative"}, "text": {"field": "t"}}},
        {"data": {"name": "b27"}, "transform": [{"filter": "datum.k == 'p'"}],
         "mark": {"type": "text", "fontStyle": "italic", "fontSize": 12.5, "color": "#444444", "baseline": "bottom", "dy": -1},
         "encoding": {"x": {"field": "x", "type": "quantitative", "scale": {"domain": [-0.685, 3.685], "nice": false, "zero": false}, "axis": null}, "y": {"field": "y", "type": "quantitative"}, "text": {"field": "t"}}},
        {"data": {"name": "b27"}, "transform": [{"filter": "datum.k == 't'"}],
         "mark": {"type": "text", "fontSize": 17, "fontWeight": "bold", "baseline": "alphabetic", "dy": -8.5, "color": "#000000"},
         "encoding": {"x": {"field": "x", "type": "quantitative", "scale": {"domain": [-0.685, 3.685], "nice": false, "zero": false}, "axis": null}, "y": {"field": "y", "type": "quantitative"}, "text": {"field": "t"}}}
      ]
    },
    {
      "width": 175, "height": 180,
      "resolve": {"scale": {"x": "independent"}},
      "layer": [
        {"data": {"name": "c26"},
         "transform": [{"stack": "v", "groupby": ["g"], "sort": [{"field": "o", "order": "ascending"}], "as": ["s0", "s1"]}],
         "mark": {"type": "bar", "stroke": "#444444", "strokeWidth": 1.3},
         "encoding": {
           "x": {"field": "g", "type": "nominal", "sort": ["F-H", "F-AD", "M-H", "M-AD"], "scale": {"paddingInner": 0.35, "paddingOuter": 0.36}, "axis": {"title": null, "labelExpr": "split(datum.value, '-')[1]", "labelAngle": 0}},
           "y": {"field": "s1", "type": "quantitative", "scale": {"domain": [0, 20], "nice": false}, "axis": {"values": [0, 5, 10, 15, 20], "title": null}},
           "y2": {"field": "s0"},
           "color": {"field": "a", "type": "nominal", "scale": {"domain": ["NEFA - C24:0", "NEFA - C22:0", "NEFA - C21:0", "NEFA - C20:0", "NEFA - C19:0", "2-OG"], "range": ["#ffffff", "#dedede", "#a8a8a8", "#636363", "#3f3f3f", "#000000"]}, "legend": {"title": null, "orient": "none", "legendX": 188, "legendY": 4.75}}}},
        {"data": {"name": "c26"},
         "transform": [{"stack": "v", "groupby": ["g"], "sort": [{"field": "o", "order": "ascending"}], "as": ["s0", "s1"]}],
         "mark": {"type": "rule", "color": "#222222", "strokeWidth": 1.5},
         "encoding": {
           "x": {"field": "g", "type": "nominal", "sort": ["F-H", "F-AD", "M-H", "M-AD"], "scale": {"paddingInner": 0.35, "paddingOuter": 0.36}, "axis": null},
           "y": {"field": "s1", "type": "quantitative"}, "y2": {"field": "e"}}},
        {"data": {"name": "c26"},
         "mark": {"type": "tick", "color": "#222222", "size": 20, "thickness": 1.5},
         "encoding": {
           "x": {"field": "g", "type": "nominal", "sort": ["F-H", "F-AD", "M-H", "M-AD"], "scale": {"paddingInner": 0.35, "paddingOuter": 0.36}, "axis": null},
           "y": {"field": "e", "type": "quantitative"}}},
        {"data": {"name": "b26"}, "transform": [{"filter": "datum.k == 'l'"}],
         "mark": {"type": "rule", "color": "#4d4d4d", "strokeWidth": 1.3},
         "encoding": {"x": {"field": "x", "type": "quantitative", "scale": {"domain": [-0.685, 3.685], "nice": false, "zero": false}, "axis": null}, "x2": {"field": "x2"}, "y": {"field": "y", "type": "quantitative"}, "y2": {"field": "y2"}}},
        {"data": {"name": "b26"}, "transform": [{"filter": "datum.k == 'u'"}],
         "mark": {"type": "rule", "color": "#000000", "strokeWidth": 4},
         "encoding": {"x": {"field": "x", "type": "quantitative", "scale": {"domain": [-0.685, 3.685], "nice": false, "zero": false}, "axis": null}, "x2": {"field": "x2"}, "y": {"field": "y", "type": "quantitative"}, "y2": {"field": "y2"}}},
        {"data": {"name": "b26"}, "transform": [{"filter": "datum.k == 's'"}],
         "mark": {"type": "text", "fontSize": 14, "fontWeight": "bold", "baseline": "middle", "color": "#000000"},
         "encoding": {"x": {"field": "x", "type": "quantitative", "scale": {"domain": [-0.685, 3.685], "nice": false, "zero": false}, "axis": null}, "y": {"field": "y", "type": "quantitative"}, "text": {"field": "t"}}},
        {"data": {"name": "b26"}, "transform": [{"filter": "datum.k == 'p'"}],
         "mark": {"type": "text", "fontStyle": "italic", "fontSize": 12.5, "color": "#444444", "baseline": "bottom", "dy": -1},
         "encoding": {"x": {"field": "x", "type": "quantitative", "scale": {"domain": [-0.685, 3.685], "nice": false, "zero": false}, "axis": null}, "y": {"field": "y", "type": "quantitative"}, "text": {"field": "t"}}},
        {"data": {"name": "b26"}, "transform": [{"filter": "datum.k == 't'"}],
         "mark": {"type": "text", "fontSize": 17, "fontWeight": "bold", "baseline": "alphabetic", "dy": -8.5, "color": "#000000"},
         "encoding": {"x": {"field": "x", "type": "quantitative", "scale": {"domain": [-0.685, 3.685], "nice": false, "zero": false}, "axis": null}, "y": {"field": "y", "type": "quantitative"}, "text": {"field": "t"}}}
      ]
    }
  ]
}
